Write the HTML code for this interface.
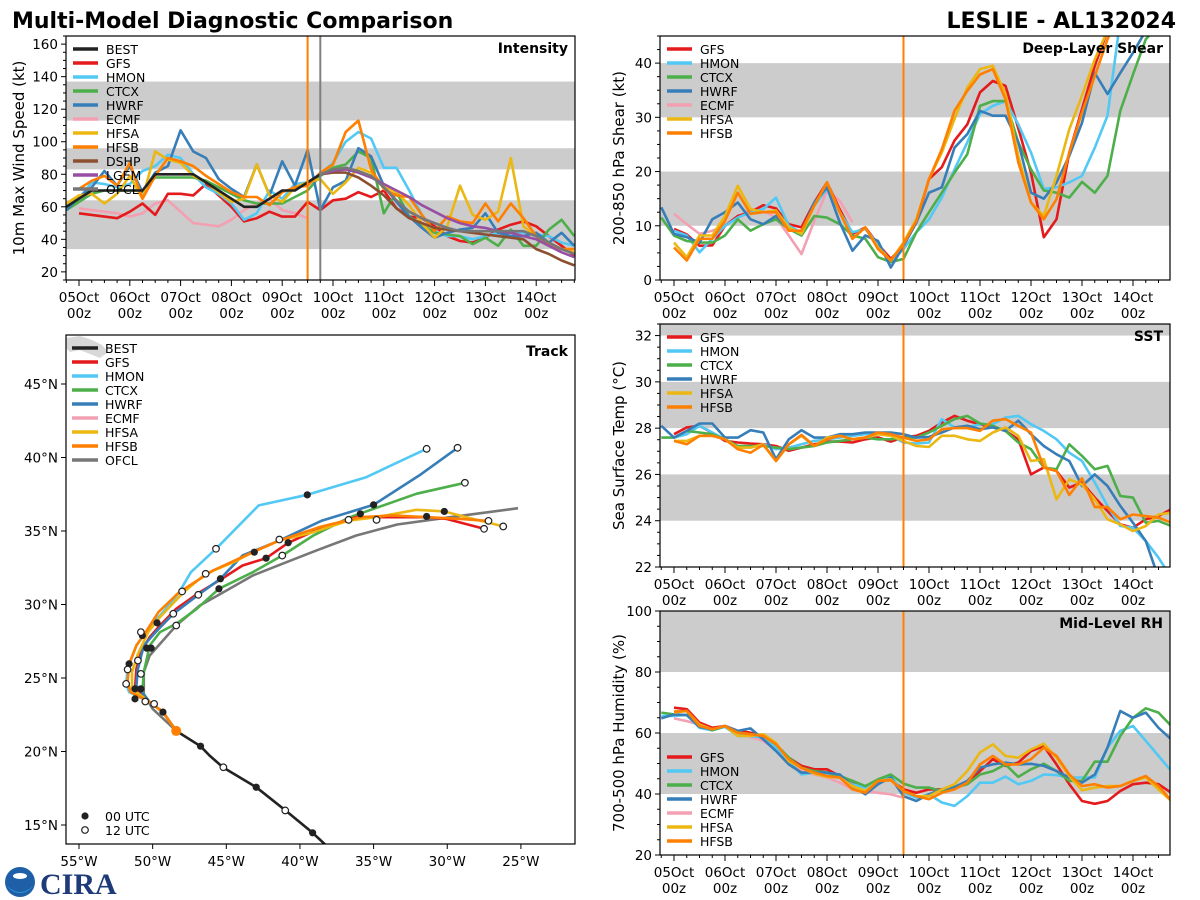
<!DOCTYPE html>
<html><head><meta charset="utf-8">
<style>
html,body{margin:0;padding:0;background:#fff;}
svg{display:block;font-family:"DejaVu Sans","Liberation Sans",sans-serif;}
</style></head>
<body>
<svg id="chart" width="1200" height="900" viewBox="0 0 1200 900" xmlns="http://www.w3.org/2000/svg">
<rect x="0" y="0" width="1200" height="900" fill="#fff"/>
<text x="12" y="28" font-size="22" font-weight="bold" fill="#000">Multi-Model Diagnostic Comparison</text>
<text x="1176" y="28" font-size="22" font-weight="bold" fill="#000" text-anchor="end">LESLIE - AL132024</text>
<g id="layer"></g>
<g>
<circle cx="20" cy="882" r="15" fill="#1f5fa8"/>
<path d="M5,884 Q20,900 35,884 Q28,893 20,893 Q12,893 5,884Z" fill="#2a9ad8"/>
<ellipse cx="20" cy="876" rx="7" ry="3" fill="#fff"/>
<text x="40" y="894" font-family="Liberation Serif, serif" font-weight="bold" font-size="30" fill="#1e3a78">CIRA</text>
</g>
</svg>
<script>
// ---------- DATA ----------
const models = ["BEST","GFS","HMON","CTCX","HWRF","ECMF","HFSA","HFSB","DSHP","LGEM","OFCL"];
const colors = {BEST:"#222222",GFS:"#e41a1c",HMON:"#52c8f5",CTCX:"#4daf4a",HWRF:"#377eb8",ECMF:"#f2a0b2",HFSA:"#ebb712",HFSB:"#ff7f00",DSHP:"#8c5030",LGEM:"#984ea3",OFCL:"#777777"};
const dayLabels = ["05Oct","06Oct","07Oct","08Oct","09Oct","10Oct","11Oct","12Oct","13Oct","14Oct"];
const initHour = 108;
const ofclHour = 114;

// Intensity (kt); start hour, then 6-hourly values
const intStart = {BEST:-6,GFS:0,HMON:-6,CTCX:-6,HWRF:-6,ECMF:0,HFSA:-6,HFSB:0,DSHP:114,LGEM:114,OFCL:114};
const intBEST = [60,65,70,70,70,70,70,80,80,80,80,75,70,65,60,60,65,70,70,75,80];
const intGFS = [56,55,54,53,57,62,55,68,68,67,74,67,60,51,53,57,54,54,63,58,64,65,69,66,70,59,54,53,48,42,39,38,41,46,49,51,48,42,36,30];
const intHMON = [62,65,75,74,72,74,82,85,92,90,80,72,68,62,52,56,70,65,74,75,80,87,100,106,102,84,84,70,55,45,42,42,40,42,44,45,44,43,42,38,36];
const intCTCX = [58,63,68,70,70,70,70,78,78,78,78,76,72,68,64,62,62,62,66,70,79,84,86,94,90,56,69,54,49,44,43,42,37,41,36,46,36,36,46,52,42];
const intHWRF = [58,66,72,82,73,85,69,81,85,107,94,90,77,71,66,86,67,88,73,95,58,72,76,96,91,73,63,54,47,41,44,46,47,56,44,42,42,44,38,44,36];
const intECMF = [59,58,57,56,54,56,62,64,57,50,49,48,52,58,62,65,58,56,53];
const intHFSA = [62,67,68,62,68,79,65,94,89,87,79,75,69,63,65,86,67,63,72,75,77,68,75,84,81,73,69,61,50,41,48,73,55,52,57,90,48,42,38,34,32];
const intHFSB = [71,76,79,73,87,65,79,90,88,85,79,74,69,66,66,61,69,72,73,81,86,106,113,83,71,67,66,55,45,54,51,50,62,51,62,53,42,36,34,34];
const intDSHP = [80,81,81,78,73,67,59,53,50,47,46,45,44,43,42,41,40,34,31,27,24];
const intLGEM = [80,82,83,81,78,74,70,66,61,57,53,50,48,47,45,44,42,40,36,32,29];
const intOFCL = [80,83,84,82,79,72,64,57,53,50,47,45,45,45,45,45,45,42,38,34,31];

// Deep-layer shear (kt)
const shrStart = {GFS:0,HMON:0,CTCX:-6,HWRF:-6,ECMF:0,HFSA:0,HFSB:0};
const shrGFS = [9.4,8.4,6.3,6.4,10,11.8,12.5,13.8,13.2,10.3,9.7,14.3,18,13,8.5,9.7,6.6,3.9,6.3,10.6,18.6,20.8,25.7,28.7,34.6,36.7,35.8,28,19.8,7.9,11.2,23.5,31.5,39.5,46,50,50,50,48,45];
const shrHMON = [9.1,8.2,5.1,7.6,10,11.5,12.5,13.1,15.2,10,8.8,13.7,16.8,12.5,8.8,9.4,6.6,3.3,5.7,8.8,11.2,15.2,20.4,25.4,30.6,32.1,33,28.7,23.5,16.8,17.1,18,19.2,24.4,30.3,48,50,50,50,50];
const shrCTCX = [11.5,8.2,7.2,6.9,6.9,8.2,11.2,9.1,10.3,11.2,9.4,8.2,11.8,11.5,10.3,8.2,7.6,4.2,3.3,3.9,8.8,12.5,16.1,19.8,23.2,32.1,33,33,25.4,20.4,16.5,16.1,15.2,18.1,16.1,19.2,31.2,37.9,44.4,47,48];
const shrHWRF = [13.4,8.5,7.9,6.9,11.2,12.5,14.3,11.2,10.3,11.8,9.4,8.8,14.3,17.1,10.6,5.4,8.2,7.2,2.3,6.3,10.6,16.1,17.1,24.4,26.9,31.2,30.3,30.3,25.4,16.1,15,18,22.9,29,38.2,34.3,38.2,41.9,46,48,48];
const shrECMF = [12.2,10.3,8.5,9.1,10,11.5,13.1,12.8,11.5,8.2,4.8,10.9,16.5,14.6,10.6];
const shrHFSA = [6.9,4.2,8.2,8.2,11.8,17.4,13.1,12.5,12.8,9.7,8.5,13.7,18,12.5,7.6,9.7,6,3.6,6.9,11.2,18.6,23.5,29.7,35.5,38.9,39.5,34.3,22.9,14.3,11.8,19.2,27.8,34,40.7,46,50,50,50,50,50];
const shrHFSB = [6,3.6,7.6,7.6,10.9,16.1,12.2,12.5,12.5,9.1,9.1,13.7,18,12.5,7.6,9.7,5.7,3.6,6.6,10.9,18.6,24.1,31.2,34.9,37.9,38.9,33.3,21.7,14.3,11.2,14.9,23.5,30.9,37.6,44.4,50,50,50,50,50];

// SST (deg C)
const sstStart = {GFS:0,HMON:0,CTCX:-6,HWRF:-6,HFSA:0,HFSB:0};
const sstGFS = [27.74,28.03,28.1,27.8,27.45,27.38,27.33,27.3,27.23,27.02,27.16,27.3,27.42,27.42,27.38,27.52,27.6,27.42,27.6,27.67,27.88,28.24,28.53,28.32,28.17,28.03,27.88,27.52,26.0,26.3,26.15,25.43,25.65,25.0,24.42,23.84,23.7,24.06,24.2,24.5];
const sstHMON = [27.59,27.74,28.1,27.81,27.52,27.16,27.16,27.3,27.09,27.16,27.3,27.45,27.52,27.59,27.67,27.74,27.74,27.67,27.38,27.33,27.38,28.39,28.03,28.03,28.17,28.17,28.46,28.53,28.17,27.88,27.52,26.94,26.58,25.65,24.64,23.77,23.7,23.12,22.4,21.53];
const sstCTCX = [27.59,27.59,27.88,27.81,27.74,27.52,27.23,27.23,27.23,27.16,27.09,27.16,27.23,27.38,27.45,27.52,27.59,27.52,27.52,27.59,27.59,27.81,28.1,28.39,28.53,28.2,28.1,27.88,27.38,27.09,26.3,26.22,27.3,26.8,26.22,26.37,25.07,25.0,23.91,23.99,23.77];
const sstHWRF = [28.1,27.59,27.88,28.2,28.2,27.59,27.59,27.91,27.81,26.66,27.52,27.91,27.59,27.59,27.74,27.74,27.81,27.81,27.81,27.74,27.59,27.62,27.81,28.03,28.1,27.95,28.03,27.88,28.32,27.74,27.23,26.87,26.58,25.5,26.0,25.5,24.64,23.91,23.12,21.53,20.96];
const sstHFSA = [27.45,27.45,27.67,27.67,27.52,27.16,27.16,27.3,26.58,27.3,27.67,27.23,27.59,27.67,27.52,27.59,27.74,27.67,27.45,27.23,27.19,27.67,27.67,27.52,27.45,27.81,28.03,27.67,26.58,26.66,24.92,25.79,25.57,24.92,24.06,23.84,23.55,23.77,24.27,24.35];
const sstHFSB = [27.45,27.3,27.67,27.67,27.52,27.09,26.94,27.28,26.58,27.3,27.71,27.23,27.52,27.67,27.52,27.59,27.81,27.74,27.59,27.45,27.52,27.95,28.0,28.0,27.88,28.32,28.39,28.1,27.81,26.3,26.15,25.11,25.83,24.59,24.59,24.06,24.27,24.2,24.13,23.91];

// Mid-level RH (%)
const rhStart = {GFS:0,HMON:-6,CTCX:-6,HWRF:-6,ECMF:0,HFSA:0,HFSB:0};
const rhGFS = [68.3,67.8,63.4,61.7,62.3,60.7,60.1,59,55.7,51.9,49.2,48.1,48.1,45.9,43.7,42.6,44.3,44.8,41.5,40.4,41.5,41.5,42.1,43.7,47.5,51.4,49.2,50.3,54.1,55.7,49.7,43.2,37.7,36.8,37.7,41,43.2,43.7,43.2,40.4];
const rhHMON = [65.6,65.6,65.9,61.7,60.9,62,59,59,58.5,55.2,50.8,46.4,47,46.4,45.4,43.2,42.1,44.3,45.9,40.4,38.8,39.9,37.2,36.1,39.3,43.7,43.7,45.7,43.2,44.3,46.4,46.2,45.4,45.4,45.4,55.2,60.7,62.3,57.4,52.5,47.5];
const rhCTCX = [66.7,66.1,65.9,62.8,60.9,62.3,60.1,59.6,59,56.3,51.9,48.6,47.5,47,45.9,44.3,42.6,44.8,46.4,43.4,42.1,42.1,41,42.1,43.2,46.4,47.5,49.7,45.6,48.1,49.9,47.5,44.3,44.3,50.6,50.6,59,65,68.1,66.7,62.3];
const rhHWRF = [64.8,66.1,65.9,62,61.2,62.3,60.7,61.5,57.9,54.1,49.7,47,47,47,46.4,42.6,39.9,43.2,45.4,39.3,37.7,39.9,41.5,42.3,44.3,48.6,49.7,50.3,49.7,49.9,49.2,47.5,45.4,43.7,46.4,55.2,67.2,65,66.7,61.7,57.9];
const rhECMF = [64.8,63.9,62.8,61.7,62.3,60.1,58.7,57.4,54.6,51.9,47.5,46.4,45.4,43.7,41.5,41,40.4,39.9,38.8];
const rhHFSA = [66.7,67.2,62.8,61.2,62.3,59,59,59.6,56.8,50.8,48.6,46.7,45.6,45.4,42.6,41,44.3,44.8,41,39.3,39.3,41.5,43.2,47.5,53.6,56.3,52.5,51.9,54.6,56.5,51.9,45.9,41.2,42.1,42.6,42.6,44.3,45.4,41.5,37.7];
const rhHFSB = [67,67.2,62.3,61.2,62.3,60.1,59.6,59,56.3,51.4,48.6,47,45.9,45.4,41.5,40.4,44.3,44.5,41,39.3,38.3,40.4,41.5,43.7,49.7,52.5,49.7,49.7,51.4,55.2,52.5,46.4,42.6,43.2,42.1,42.6,44.3,45.9,42.6,37.9];

// Track (lon, lat)
const trkBESTlon = [-37.8,-38.34,-39.14,-40.99,-42.97,-45.24,-46.14,-46.75,-48.4];
const trkBESTlat = [13.0,13.72,14.47,15.99,17.57,18.93,19.73,20.36,21.4];
const trkGFSlon = [-48.4,-49.3,-50.2,-51.2,-51.1,-50.8,-50.2,-49.5,-48.4,-46.8,-45.3,-43.9,-42.3,-40.8,-38.7,-36.2,-33.2,-31.4,-30.1,-27.5];
const trkGFSlat = [21.4,22.68,23.36,24.26,25.62,26.76,27.78,28.57,29.71,30.84,31.75,32.65,33.15,34.2,35.15,35.94,35.94,35.94,35.83,35.15];
const trkHMONlon = [-48.4,-49.3,-50.2,-51.6,-51.8,-51.7,-51.1,-50.3,-49.1,-48.2,-47.4,-45.7,-42.8,-39.5,-35.5,-31.4];
const trkHMONlat = [21.4,22.68,23.36,24.04,24.6,25.62,27.21,28.35,29.71,30.84,32.2,33.79,36.74,37.46,38.66,40.59];
const trkCTCXlon = [-48.4,-49.3,-50.2,-50.7,-50.6,-50.2,-49.5,-48.4,-47.0,-45.5,-43.2,-41.2,-39.1,-36.6,-35.0,-32.1,-28.8];
const trkCTCXlat = [21.4,22.68,23.36,24.04,25.4,27.21,28.12,28.69,29.71,31.07,32.2,33.33,34.69,35.94,36.51,37.53,38.28];
const trkHWRFlon = [-48.4,-49.3,-50.2,-51.1,-51.0,-50.6,-49.8,-48.6,-46.9,-45.4,-43.9,-41.4,-38.5,-35.0,-31.9,-29.3];
const trkHWRFlat = [21.4,22.68,23.36,24.49,25.62,27.21,28.12,29.37,30.66,31.75,33.33,34.35,35.71,36.78,38.78,40.66];
const trkHFSAlon = [-48.4,-49.3,-50.2,-51.4,-51.4,-51.0,-50.3,-49.5,-47.9,-46.4,-44.5,-43.2,-41.4,-39.1,-36.7,-34.8,-32.1,-30.2,-28.7,-26.2];
const trkHFSAlat = [21.4,22.68,23.36,24.26,25.4,26.64,28.12,29.14,30.84,32.09,32.88,33.56,34.35,34.92,35.71,35.94,36.44,36.33,35.94,35.31];
const trkHFSBlon = [-48.4,-49.3,-50.2,-51.5,-51.7,-51.6,-51.1,-50.4,-49.6,-48.2,-45.9,-43.2,-41.4,-38.7,-35.9,-33.7,-31.4,-29.2,-27.2];
const trkHFSBlat = [21.4,22.68,23.36,24.04,24.72,25.96,27.21,28.23,29.48,30.84,32.31,33.56,34.35,35.26,35.94,36.06,35.94,35.83,35.69];
const trkOFCLlon = [-48.4,-48.9,-50.0,-50.6,-50.6,-50.2,-49.5,-48.4,-46.8,-45.2,-43.2,-41.2,-38.9,-36.2,-33.4,-29.8,-25.2];
const trkOFCLlat = [21.4,21.88,22.9,23.92,25.4,26.53,27.32,28.57,29.93,30.84,31.97,32.77,33.67,34.69,35.44,35.94,36.55];
const mk00lon = [-39.5,-35.0,-30.2,-31.4,-35.9,-40.8,-42.3,-43.1,-45.5,-45.4,-49.7,-50.7,-50.1,-50.4,-51.2,-50.8,-51.2,-49.3,-46.75,-42.97,-39.14,-51.6];
const mk00lat = [37.46,36.78,36.33,35.99,36.17,34.2,33.15,33.56,31.07,31.75,28.75,27.89,27.03,27.03,24.26,24.26,23.58,22.68,20.36,17.57,14.47,25.96];
const mk12lon = [-31.4,-29.3,-28.8,-27.2,-26.2,-27.5,-34.8,-36.7,-41.2,-41.4,-45.7,-46.4,-46.9,-48.0,-48.6,-48.4,-50.8,-51.0,-51.7,-51.8,-50.8,-50.5,-49.9,-45.2,-41.0];
const mk12lat = [40.59,40.66,38.28,35.69,35.31,35.15,35.76,35.76,33.33,34.42,33.79,32.09,30.66,30.89,29.37,28.57,28.12,26.19,25.58,24.6,25.28,23.4,23.24,18.93,15.99];
const lonTicks = [-55,-50,-45,-40,-35,-30,-25];
const latTicks = [15,20,25,30,35,40,45];

// ---------- DRAWING ----------
const NS = "http://www.w3.org/2000/svg";
const layer = document.getElementById("layer");
function mk(tag, attrs, parent){
  const e = document.createElementNS(NS, tag);
  for (const k in attrs) e.setAttribute(k, attrs[k]);
  (parent||layer).appendChild(e);
  return e;
}
function txt(s, x, y, size, anchor, parent, weight){
  const t = mk("text", {x:x, y:y, "font-size":size, "text-anchor":anchor||"start", fill:"#000"}, parent);
  if (weight) t.setAttribute("font-weight", weight);
  t.textContent = s;
  return t;
}

function timePanel(cfg){
  const g = mk("g", {});
  
  
  const X = h => cfg.day0 + h/24*cfg.pxDay;
  const Y = v => cfg.y1 - (v - cfg.ymin)/(cfg.ymax - cfg.ymin)*(cfg.y1 - cfg.y0);
  const cid = "clip-" + cfg.name;
  const cp = mk("clipPath", {id:cid}, g);
  mk("rect", {x:cfg.x0, y:cfg.y0, width:cfg.x1-cfg.x0, height:cfg.y1-cfg.y0}, cp);
  // bands
  cfg.bands.forEach(b => {
    const r = mk("rect", {x:cfg.x0, y:Y(Math.min(b[1],cfg.ymax)), width:cfg.x1-cfg.x0, height:Y(b[0])-Y(Math.min(b[1],cfg.ymax)), fill:"#cccccc"}, g);
    
    
  });
  // series
  const sg = mk("g", {"clip-path":"url(#"+cid+")"}, g);
  cfg.series.forEach(s => {
    const pts = s.vals.map((v,i) => X(s.start + 6*i).toFixed(1) + "," + Y(v).toFixed(1)).join(" ");
    const pl = mk("polyline", {points:pts, fill:"none", stroke:colors[s.m], "stroke-width":2.6, "stroke-linejoin":"round"}, sg);
    
    
  });
  // vertical lines
  const vl = mk("line", {x1:X(initHour), x2:X(initHour), y1:cfg.y0, y2:cfg.y1, stroke:"#ff7f00", "stroke-width":2}, g);
  
  
  if (cfg.ofcl){
    const v2 = mk("line", {x1:X(ofclHour), x2:X(ofclHour), y1:cfg.y0, y2:cfg.y1, stroke:"#808080", "stroke-width":2}, g);
    
    
  }
  // frame
  mk("rect", {x:cfg.x0, y:cfg.y0, width:cfg.x1-cfg.x0, height:cfg.y1-cfg.y0, fill:"none", stroke:"#000", "stroke-width":1.2}, g);
  // y ticks
  const yax = mk("g", {}, g);
  
  
  for (let v = cfg.ymin; v <= cfg.ymax + 1e-6; v += cfg.minor){
    const y = Y(v);
    if (y < cfg.y0 - 0.5 || y > cfg.y1 + 0.5) continue;
    const isMaj = Math.abs(Math.round(v/cfg.major)*cfg.major - v) < 1e-6;
    mk("line", {x1:cfg.x0, x2:cfg.x0-(isMaj?5:3), y1:y, y2:y, stroke:"#000", "stroke-width":1}, yax);
    if (isMaj) txt(String(Math.round(v)), cfg.x0-8, y+5, 13.5, "end", yax);
  }
  const yl = txt(cfg.ylabel, 0, 0, 15, "middle", g);
  yl.setAttribute("transform", "translate(" + cfg.ylabX + "," + ((cfg.y0+cfg.y1)/2) + ") rotate(-90)");
  
  
  // x ticks
  const xax = mk("g", {}, g);
  
  
  for (let h = -6; h <= 240; h += 6){
    const x = X(h);
    if (x < cfg.x0 - 0.5 || x > cfg.x1 + 0.5) continue;
    const isMaj = h % 24 === 0;
    mk("line", {x1:x, x2:x, y1:cfg.y1, y2:cfg.y1+(isMaj?6:3), stroke:"#000", "stroke-width":1}, xax);
    if (isMaj && dayLabels[h/24]){
      txt(dayLabels[h/24], x, cfg.y1+22, 13.5, "middle", xax);
      txt("00z", x, cfg.y1+38, 13.5, "middle", xax);
    }
  }
  // legend
  const lg = mk("g", {}, g);
  
  
  cfg.legend.forEach((m, i) => {
    const y = cfg.legY + 14*i;
    const e = mk("g", {}, lg);
    
    
    mk("line", {x1:cfg.x0+7, x2:cfg.x0+32, y1:y, y2:y, stroke:colors[m], "stroke-width":3.5}, e);
    txt(m, cfg.x0+40, y+5, 12.5, "start", e);
  });
  const pt = txt(cfg.title, cfg.x1-7, cfg.y0+17, 14, "end", g, "bold");
  
  
}

timePanel({name:"intensity-panel", x0:66, x1:575, y0:36, y1:280, day0:79, pxDay:50.8, ymin:15, ymax:165, major:20, minor:5,
  bands:[[34,64],[83,96],[113,137]], ofcl:true, ylabel:"10m Max Wind Speed (kt)", ylabX:24, title:"Intensity", legY:49,
  legend:["BEST","GFS","HMON","CTCX","HWRF","ECMF","HFSA","HFSB","DSHP","LGEM","OFCL"],
  series:[
    {m:"ECMF",start:intStart.ECMF,vals:intECMF},{m:"GFS",start:intStart.GFS,vals:intGFS},
    {m:"HMON",start:intStart.HMON,vals:intHMON},{m:"CTCX",start:intStart.CTCX,vals:intCTCX},
    {m:"HWRF",start:intStart.HWRF,vals:intHWRF},{m:"HFSA",start:intStart.HFSA,vals:intHFSA},
    {m:"HFSB",start:intStart.HFSB,vals:intHFSB},{m:"DSHP",start:intStart.DSHP,vals:intDSHP},
    {m:"LGEM",start:intStart.LGEM,vals:intLGEM},{m:"OFCL",start:intStart.OFCL,vals:intOFCL},
    {m:"BEST",start:intStart.BEST,vals:intBEST}]});

timePanel({name:"shear-panel", x0:660, x1:1170, y0:36, y1:280, day0:674, pxDay:51, ymin:0, ymax:45, major:10, minor:2.5,
  bands:[[10,20],[30,40]], ylabel:"200-850 hPa Shear (kt)", ylabX:624, title:"Deep-Layer Shear", legY:49,
  legend:["GFS","HMON","CTCX","HWRF","ECMF","HFSA","HFSB"],
  series:[
    {m:"ECMF",start:shrStart.ECMF,vals:shrECMF},{m:"GFS",start:shrStart.GFS,vals:shrGFS},
    {m:"HMON",start:shrStart.HMON,vals:shrHMON},{m:"CTCX",start:shrStart.CTCX,vals:shrCTCX},
    {m:"HWRF",start:shrStart.HWRF,vals:shrHWRF},{m:"HFSA",start:shrStart.HFSA,vals:shrHFSA},
    {m:"HFSB",start:shrStart.HFSB,vals:shrHFSB}]});

timePanel({name:"sst-panel", x0:660, x1:1170, y0:324, y1:567, day0:674, pxDay:51, ymin:22, ymax:32.5, major:2, minor:0.5,
  bands:[[24,26],[28,30],[32,33]], ylabel:"Sea Surface Temp (°C)", ylabX:624, title:"SST", legY:337,
  legend:["GFS","HMON","CTCX","HWRF","HFSA","HFSB"],
  series:[
    {m:"GFS",start:sstStart.GFS,vals:sstGFS},{m:"HMON",start:sstStart.HMON,vals:sstHMON},
    {m:"CTCX",start:sstStart.CTCX,vals:sstCTCX},{m:"HWRF",start:sstStart.HWRF,vals:sstHWRF},
    {m:"HFSA",start:sstStart.HFSA,vals:sstHFSA},{m:"HFSB",start:sstStart.HFSB,vals:sstHFSB}]});

timePanel({name:"rh-panel", x0:660, x1:1170, y0:611, y1:855, day0:674, pxDay:51, ymin:20, ymax:100, major:20, minor:5,
  bands:[[40,60],[80,100]], ylabel:"700-500 hPa Humidity (%)", ylabX:624, title:"Mid-Level RH", legY:757,
  legend:["GFS","HMON","CTCX","HWRF","ECMF","HFSA","HFSB"],
  series:[
    {m:"ECMF",start:rhStart.ECMF,vals:rhECMF},{m:"GFS",start:rhStart.GFS,vals:rhGFS},
    {m:"HMON",start:rhStart.HMON,vals:rhHMON},{m:"CTCX",start:rhStart.CTCX,vals:rhCTCX},
    {m:"HWRF",start:rhStart.HWRF,vals:rhHWRF},{m:"HFSA",start:rhStart.HFSA,vals:rhHFSA},
    {m:"HFSB",start:rhStart.HFSB,vals:rhHFSB}]});

// Track panel
(function(){
  const T = {x0:66, x1:575, y0:335, y1:844};
  const LX = lon => 79 + (lon + 55)*14.73;
  const LY = lat => 825 - (lat - 15)*14.7;
  const g = mk("g", {});
  
  
  const cp = mk("clipPath", {id:"clip-track"}, g);
  mk("rect", {x:T.x0, y:T.y0, width:T.x1-T.x0, height:T.y1-T.y0}, cp);
  const sg = mk("g", {"clip-path":"url(#clip-track)"}, g);
  const land = mk("path", {d:"M66,338 L80,336 L92,340 L102,345 L108,352 L100,358 L90,354 L80,350 L70,352 L66,348Z", fill:"#d8d8d8"}, sg);
  
  
  const tracks = [["OFCL",trkOFCLlon,trkOFCLlat],["CTCX",trkCTCXlon,trkCTCXlat],["GFS",trkGFSlon,trkGFSlat],
    ["HMON",trkHMONlon,trkHMONlat],["HWRF",trkHWRFlon,trkHWRFlat],["HFSA",trkHFSAlon,trkHFSAlat],
    ["HFSB",trkHFSBlon,trkHFSBlat],["BEST",trkBESTlon,trkBESTlat]];
  tracks.forEach(t => {
    const pts = t[1].map((lo,i) => LX(lo).toFixed(1) + "," + LY(t[2][i]).toFixed(1)).join(" ");
    const pl = mk("polyline", {points:pts, fill:"none", stroke:colors[t[0]], "stroke-width":2.6, "stroke-linejoin":"round"}, sg);
    
    
  });
  mk00lon.forEach((lo,i) => {
    const c = mk("circle", {cx:LX(lo), cy:LY(mk00lat[i]), r:3.6, fill:"#222"}, sg);
    
    
  });
  mk12lon.forEach((lo,i) => {
    const c = mk("circle", {cx:LX(lo), cy:LY(mk12lat[i]), r:3.3, fill:"#fff", stroke:"#222", "stroke-width":1.2}, sg);
    
    
  });
  const cur = mk("circle", {cx:LX(trkOFCLlon[0]), cy:LY(trkOFCLlat[0]), r:5, fill:"#ff7f00"}, sg);
  
  
  mk("rect", {x:T.x0, y:T.y0, width:T.x1-T.x0, height:T.y1-T.y0, fill:"none", stroke:"#000", "stroke-width":1.2}, g);
  const xa = mk("g", {}, g);
  
  
  lonTicks.forEach(lo => {
    const x = LX(lo);
    mk("line", {x1:x, x2:x, y1:T.y1, y2:T.y1+5, stroke:"#000"}, xa);
    txt(Math.abs(lo) + "°W", x, T.y1+22, 13.5, "middle", xa);
  });
  const ya = mk("g", {}, g);
  
  
  latTicks.forEach(la => {
    const y = LY(la);
    mk("line", {x1:T.x0, x2:T.x0-5, y1:y, y2:y, stroke:"#000"}, ya);
    txt(la + "°N", T.x0-8, y+5, 13.5, "end", ya);
  });
  const lg = mk("g", {}, g);
  
  
  ["BEST","GFS","HMON","CTCX","HWRF","ECMF","HFSA","HFSB","OFCL"].forEach((m,i) => {
    const y = 348 + 14*i;
    const e = mk("g", {}, lg);
    
    
    mk("line", {x1:72, x2:98, y1:y, y2:y, stroke:colors[m], "stroke-width":3.5}, e);
    txt(m, 105, y+5, 12.5, "start", e);
  });
  const ml = mk("g", {}, g);
  
  
  mk("circle", {cx:85, cy:816, r:3.6, fill:"#222"}, ml);
  txt("00 UTC", 105, 821, 12.5, "start", ml);
  mk("circle", {cx:85, cy:830, r:3.3, fill:"#fff", stroke:"#222", "stroke-width":1.2}, ml);
  txt("12 UTC", 105, 835, 12.5, "start", ml);
  const tt = txt("Track", 568, 356, 14, "end", g, "bold");
  
  
})();
</script>
</body></html>
